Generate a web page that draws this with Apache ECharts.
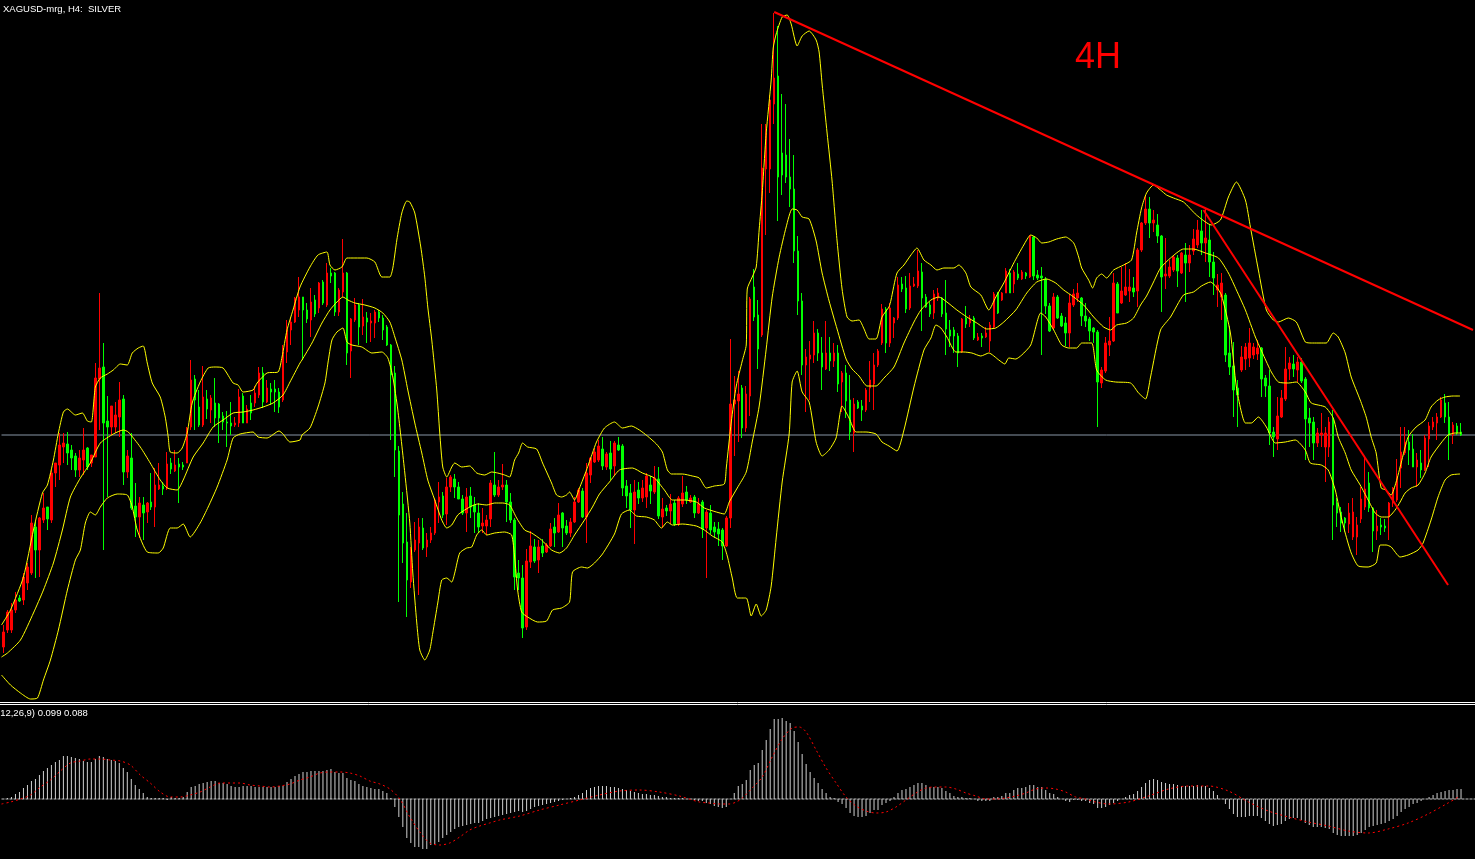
<!DOCTYPE html>
<html><head><meta charset="utf-8">
<script src="https://cdn.jsdelivr.net/npm/echarts@6/dist/echarts.min.js"></script>
<style>html,body{margin:0;padding:0;background:#000;overflow:hidden}#c{width:1475px;height:859px}</style>
</head><body><div id="c"></div>
<script>
// ---- Data (price units; bars are 4 hours apart, x of overlays given in hours from first bar) ----
const titleText = 'XAGUSD-mrg, H4:  SILVER';
const macdLabel = '(12,26,9) 0.099 0.088';
const noteText = '4H';
const bidPrice = 25.65;

const openP = [
23.53,23.70,23.70,23.90,24.02,24.00,24.17,24.27,24.73,24.50,
24.80,24.93,24.80,25.27,25.35,25.53,25.56,25.50,25.44,25.30,
25.40,25.52,25.37,25.43,26.21,26.33,25.79,25.73,25.73,25.83,
26.01,25.28,25.42,24.94,24.83,24.95,24.88,24.98,24.93,25.11,
25.14,25.12,25.37,25.29,25.36,25.35,25.37,25.73,26.21,25.93,
25.75,26.01,25.90,25.97,25.96,25.84,25.78,25.77,25.75,25.77,
26.04,25.77,25.97,25.97,26.05,26.27,25.98,26.11,26.11,26.08,
26.00,26.48,26.70,26.78,26.90,27.03,26.90,26.80,27.00,26.92,
27.18,26.95,27.27,27.27,26.88,27.08,27.27,26.49,26.80,26.95,
26.74,26.82,26.77,26.77,26.88,26.82,26.73,26.55,26.27,25.49,
24.96,24.58,24.18,24.50,24.57,24.72,24.53,24.60,24.67,24.98,
25.04,24.86,25.13,25.21,25.13,25.01,24.87,25.04,24.95,24.87,
24.74,24.74,24.81,25.15,25.05,25.13,25.15,24.98,24.80,24.27,
24.22,23.73,24.38,24.53,24.40,24.54,24.48,24.54,24.73,24.68,
24.87,24.74,24.67,24.78,24.98,25.09,24.83,25.25,25.38,25.40,
25.51,25.33,25.47,25.34,25.55,25.54,25.14,25.07,24.90,25.10,
25.02,25.03,25.15,25.08,25.21,24.83,24.92,24.89,24.97,24.76,
24.96,25.08,24.98,25.03,24.87,24.98,24.72,24.87,24.73,24.71,
24.70,24.54,24.82,25.96,25.99,26.12,25.72,26.04,27.13,26.85,
26.65,28.31,28.31,28.96,29.24,28.47,28.45,28.23,28.11,27.49,
26.99,26.35,26.41,26.45,26.67,26.47,26.31,26.47,26.39,26.47,
26.18,26.27,26.00,25.67,25.98,25.94,25.90,26.12,26.16,26.35,
26.57,26.91,26.57,26.77,26.82,27.16,27.12,26.92,27.14,27.14,
27.28,27.03,26.95,26.87,27.02,27.02,26.87,26.70,26.70,26.64,
26.48,26.82,26.77,26.82,26.60,26.64,26.63,26.59,26.73,27.07,
27.00,27.07,27.27,27.16,27.26,27.21,27.27,27.23,27.63,27.25,
27.24,27.21,26.94,26.72,27.03,26.84,26.77,26.67,26.95,27.02,
27.02,26.84,26.81,26.72,26.68,26.17,26.29,26.55,26.59,27.16,
26.97,27.05,27.09,27.12,27.09,27.50,27.77,27.91,27.77,27.75,
27.64,27.24,27.24,27.30,27.42,27.27,27.45,27.37,27.49,27.55,
27.69,27.57,27.60,27.38,27.10,27.03,27.05,26.47,26.34,26.12,
26.30,26.41,26.42,26.45,26.46,26.52,26.22,26.14,25.68,25.61,
25.83,26.01,26.31,26.36,26.30,26.38,26.21,25.82,25.78,25.57,
25.65,25.53,25.53,25.81,24.97,24.88,24.82,24.76,24.63,24.63,
24.81,24.93,25.17,24.92,24.69,24.75,24.74,24.83,24.97,25.00,
25.32,25.47,25.58,25.51,25.33,25.37,25.30,25.61,25.73,25.77,
25.83,25.97,25.83,25.65,25.74,25.68];

const closeP = [
23.68,23.88,23.90,24.00,23.99,24.23,24.33,24.77,24.50,24.82,
24.92,24.81,25.27,25.37,25.55,25.57,25.47,25.42,25.30,25.42,
25.50,25.33,25.45,26.22,26.32,25.77,25.73,25.94,25.85,26.00,
25.28,25.44,24.92,24.83,24.97,24.87,24.97,24.93,25.15,25.15,
25.11,25.36,25.31,25.35,25.33,25.33,25.72,26.20,26.00,25.75,
26.03,25.91,26.02,25.82,25.82,25.78,25.77,25.74,25.77,26.03,
25.77,25.91,25.87,26.07,26.27,25.98,26.12,26.08,26.08,25.93,
26.48,26.70,26.78,27.02,27.03,26.90,26.81,26.98,26.86,27.17,
26.97,27.27,27.24,26.88,27.10,27.27,26.47,26.81,26.95,26.73,
26.83,26.78,26.79,26.88,26.82,26.70,26.55,26.25,25.50,24.85,
24.57,24.20,24.50,24.60,24.73,24.52,24.60,24.67,25.00,25.03,
24.85,25.13,25.23,25.13,25.01,24.87,25.03,24.93,24.88,24.73,
24.77,24.80,25.17,25.05,25.13,25.15,24.98,24.80,24.23,24.22,
23.72,24.39,24.54,24.39,24.53,24.47,24.55,24.71,24.67,24.85,
24.72,24.67,24.78,24.98,25.10,24.83,25.27,25.42,25.48,25.54,
25.34,25.46,25.31,25.57,25.50,25.12,25.04,24.90,25.08,25.02,
25.12,25.24,25.09,25.22,24.84,24.91,24.89,24.96,24.76,25.02,
25.07,25.00,25.02,24.87,24.96,24.71,24.88,24.70,24.68,24.66,
24.54,24.82,25.96,26.00,26.06,25.72,26.06,27.01,26.83,26.51,
28.32,28.67,29.00,29.22,28.23,28.25,28.23,28.11,27.49,26.99,
26.35,26.43,26.45,26.67,26.47,26.33,26.47,26.39,26.47,26.16,
26.27,25.99,25.68,25.96,25.92,25.90,26.10,26.20,26.35,26.49,
26.91,26.57,26.92,26.82,27.15,27.11,26.91,27.14,27.16,27.29,
27.02,26.93,26.86,27.06,27.07,26.86,26.71,26.64,26.64,26.47,
26.81,26.76,26.81,26.62,26.63,26.62,26.67,26.75,27.06,26.87,
27.07,27.29,27.07,27.28,27.22,27.28,27.24,27.64,27.24,27.22,
27.22,26.94,26.69,27.03,26.82,26.74,26.67,26.97,27.06,27.07,
26.84,26.79,26.69,26.68,26.18,26.30,26.57,26.59,27.17,26.87,
27.09,27.13,27.13,27.08,27.50,27.77,27.91,27.77,27.80,27.64,
27.23,27.26,27.33,27.43,27.29,27.47,27.37,27.45,27.61,27.70,
27.57,27.62,27.38,27.22,27.15,27.17,26.45,26.33,26.10,26.05,
26.43,26.53,26.57,26.53,26.52,26.21,26.14,25.67,25.63,25.84,
26.02,26.31,26.37,26.31,26.38,26.19,25.81,25.77,25.57,25.67,
25.67,25.67,25.78,24.95,24.87,24.77,24.77,24.87,24.88,24.75,
25.01,25.11,24.92,24.69,24.74,24.73,24.72,24.97,25.12,25.23,
25.48,25.58,25.50,25.33,25.40,25.30,25.62,25.74,25.78,25.83,
26.00,25.83,25.65,25.75,25.67,25.65];

const lowP = [
23.47,23.67,23.67,23.87,23.98,23.95,24.10,24.25,24.22,24.23,
24.77,24.70,24.77,25.13,25.20,25.37,25.35,25.30,25.23,25.23,
25.25,25.30,25.33,25.43,25.70,24.50,25.03,25.65,25.67,25.63,
25.15,25.22,24.90,24.63,24.62,24.60,24.77,24.90,24.73,25.10,
25.05,25.10,25.26,25.28,24.97,25.30,25.37,25.70,25.70,25.73,
25.73,25.81,25.77,25.73,25.57,25.70,25.53,25.65,25.73,25.73,
25.77,25.77,25.80,25.93,26.02,25.92,25.97,25.95,25.88,25.87,
25.98,26.37,26.55,26.77,26.83,26.40,26.77,26.63,26.83,26.87,
26.95,26.93,27.17,26.84,26.84,27.03,26.35,26.22,26.78,26.55,
26.65,26.57,26.58,26.62,26.78,26.60,26.54,25.60,25.23,23.98,
24.37,23.83,24.12,24.48,24.05,24.50,24.43,24.57,24.65,24.77,
24.82,24.75,25.08,25.02,25.01,24.85,24.68,24.82,24.67,24.67,
24.67,24.65,24.73,25.03,25.03,25.10,24.78,24.77,24.10,24.10,
23.62,23.70,24.32,24.37,24.27,24.43,24.47,24.53,24.53,24.67,
24.53,24.65,24.63,24.77,24.97,24.82,24.57,25.17,25.37,25.38,
25.30,25.30,25.20,25.24,25.49,25.04,24.92,24.72,24.56,24.96,
24.98,24.92,24.96,25.06,24.81,24.72,24.84,24.76,24.74,24.74,
24.93,24.96,24.97,24.82,24.86,24.62,24.22,24.66,24.62,24.54,
24.40,24.53,24.72,25.44,25.58,25.62,25.68,25.84,26.79,26.31,
26.63,27.65,28.07,28.76,27.79,28.05,28.17,27.93,27.37,26.85,
26.25,25.88,26.00,26.37,26.39,26.10,26.30,26.29,26.33,26.08,
25.88,25.82,25.60,25.48,25.91,25.79,25.88,25.98,25.90,26.33,
26.55,26.47,26.53,26.62,26.80,27.08,26.87,26.90,27.13,27.12,
26.69,26.92,26.83,26.81,26.99,26.83,26.45,26.53,26.47,26.33,
26.47,26.72,26.73,26.60,26.59,26.53,26.62,26.48,26.72,26.86,
26.99,27.07,27.07,27.07,27.20,27.20,27.21,27.22,27.20,27.20,
26.45,26.86,26.68,26.71,26.81,26.73,26.54,26.53,26.93,26.98,
26.74,26.73,26.59,26.57,25.73,26.12,26.27,26.44,26.58,26.87,
26.96,27.04,26.98,27.03,26.93,27.48,27.75,27.62,27.68,27.57,
26.88,27.11,27.22,27.28,27.13,27.26,26.98,27.28,27.45,27.52,
27.45,27.38,27.23,27.05,26.93,26.80,26.38,26.25,25.83,25.73,
26.28,26.30,26.33,26.41,26.40,26.03,26.03,25.55,25.43,25.50,
25.82,25.99,26.20,26.23,26.18,26.17,25.40,25.53,25.40,25.53,
25.53,25.18,25.43,24.60,24.73,24.68,24.68,24.67,24.60,24.45,
24.77,24.90,24.88,24.48,24.60,24.65,24.68,24.60,24.93,24.98,
25.12,25.45,25.35,25.33,25.13,25.22,25.29,25.33,25.70,25.60,
25.82,25.77,25.40,25.56,25.65,25.64];

const highP = [
23.75,23.90,23.97,24.08,24.05,24.27,24.37,24.85,24.78,24.83,
25.07,24.93,25.30,25.37,25.67,25.67,25.68,25.55,25.47,25.50,
25.72,25.53,25.45,26.37,27.07,26.57,26.04,25.94,25.98,26.18,
26.05,25.50,25.67,25.17,25.03,25.03,24.98,25.27,25.32,25.37,
25.18,25.48,25.42,25.50,25.42,25.38,25.73,26.40,26.25,26.10,
26.34,26.10,26.05,26.22,25.97,25.88,25.89,25.98,25.83,26.11,
26.07,25.95,26.05,26.14,26.33,26.33,26.20,26.17,26.20,26.12,
26.55,26.80,26.83,27.03,27.23,27.03,26.97,27.12,27.05,27.18,
27.20,27.37,27.32,27.28,27.12,27.61,27.28,26.82,27.02,26.97,
27.01,26.88,26.87,26.90,26.90,26.85,26.75,26.56,26.34,25.54,
25.08,24.87,24.53,24.78,24.82,24.82,24.67,24.73,25.02,25.18,
25.08,25.22,25.25,25.26,25.18,25.05,25.12,25.13,25.03,24.97,
24.92,24.85,25.20,25.48,25.20,25.36,25.20,25.07,24.82,24.40,
24.35,24.51,24.69,24.61,24.60,24.61,24.57,24.77,24.82,24.97,
24.88,24.80,24.82,25.03,25.12,25.12,25.37,25.43,25.52,25.60,
25.63,25.48,25.59,25.59,25.63,25.56,25.20,25.16,25.20,25.18,
25.20,25.27,25.24,25.34,25.33,25.02,24.95,25.06,25.00,25.04,
25.24,25.14,25.05,25.05,25.02,25.00,24.90,24.95,24.78,24.78,
24.72,24.84,26.61,26.24,26.29,26.15,26.14,27.03,27.31,27.00,
28.76,28.76,29.05,29.87,29.74,29.06,28.96,28.61,28.45,27.64,
27.07,26.51,26.59,26.79,26.71,26.63,26.79,26.63,26.57,26.55,
26.29,26.35,26.25,26.02,26.00,26.00,26.12,26.39,26.47,26.51,
26.96,26.93,26.97,26.83,27.23,27.23,27.24,27.27,27.23,27.50,
27.37,27.06,26.98,27.10,27.12,27.03,27.20,26.80,26.73,26.67,
26.82,26.94,26.85,26.84,26.67,26.67,26.73,26.78,27.08,27.08,
27.08,27.32,27.31,27.30,27.37,27.30,27.28,27.65,27.64,27.30,
27.33,27.23,26.97,27.07,27.05,26.87,26.83,27.06,27.11,27.17,
27.03,26.97,26.83,26.73,26.70,26.33,26.63,26.83,27.27,27.18,
27.33,27.37,27.31,27.23,27.52,27.78,28.05,28.03,27.90,27.86,
27.65,27.62,27.40,27.45,27.45,27.48,27.57,27.55,27.71,27.80,
27.90,27.91,27.75,27.48,27.26,27.27,27.07,26.74,26.58,26.20,
26.54,26.57,26.72,26.57,26.60,26.53,26.25,26.30,25.73,26.03,
26.10,26.53,26.43,26.45,26.43,26.42,26.23,25.92,25.83,25.72,
25.87,25.73,25.83,25.90,25.02,24.93,24.83,24.97,25.02,24.83,
25.13,25.42,25.28,24.93,24.90,24.82,24.81,24.98,25.13,25.41,
25.73,25.73,25.70,25.66,25.47,25.50,25.65,25.78,25.83,25.87,
26.03,26.06,25.98,25.78,25.77,25.77];

// Bollinger bands: [hours from first bar, price]
const bbUpper = [[-2,23.75],[7,23.90],[20,24.23],[30,24.70],[39,25.07],[44,25.15],[50,25.40],[55,25.67],[60,25.88],[64,25.91],[72,25.85],[79,25.87],[84,25.79],[88,25.78],[92,26.13],[97,26.22],[104,26.26],[110,26.30],[117,26.36],[124,26.35],[129,26.47],[135,26.52],[140,26.54],[144,26.37],[149,26.17],[157,26.03],[162,25.83],[165,25.63],[167,25.48],[174,25.47],[179,25.52],[184,25.67],[189,25.97],[197,26.18],[205,26.32],[212,26.33],[220,26.32],[230,26.17],[235,26.15],[240,26.08],[250,26.10],[254,26.17],[264,26.27],[275,26.28],[279,26.43],[284,26.70],[290,26.90],[297,27.13],[307,27.33],[315,27.45],[324,27.48],[327,27.35],[332,27.30],[339,27.33],[344,27.42],[352,27.42],[364,27.42],[372,27.38],[379,27.23],[387,27.23],[390,27.32],[394,27.60],[399,27.87],[404,27.99],[407,27.98],[412,27.87],[418,27.53],[422,27.23],[425,26.93],[429,26.60],[434,26.10],[437,25.67],[440,25.33],[444,25.23],[449,25.33],[452,25.37],[459,25.33],[467,25.34],[474,25.27],[482,25.25],[489,25.28],[495,25.27],[502,25.25],[507,25.23],[512,25.40],[516,25.47],[520,25.57],[525,25.53],[534,25.51],[540,25.37],[549,25.17],[554,25.05],[559,25.03],[564,25.05],[567,25.08],[572,25.00],[577,25.12],[584,25.30],[590,25.47],[594,25.58],[602,25.72],[612,25.78],[620,25.72],[629,25.74],[637,25.70],[645,25.64],[654,25.56],[660,25.48],[665,25.30],[669,25.26],[680,25.26],[690,25.24],[697,25.22],[704,25.12],[712,25.14],[722,25.16],[724,25.32],[729,25.78],[734,26.14],[740,26.39],[744,26.55],[745,27.11],[750,27.23],[754,27.33],[757,27.71],[760,28.07],[764,28.67],[769,29.20],[771,29.52],[774,29.66],[780,29.83],[785,29.85],[789,29.76],[795,29.54],[800,29.64],[807,29.69],[814,29.60],[817,29.48],[820,29.16],[825,28.67],[830,28.19],[835,27.59],[840,27.11],[845,26.83],[850,26.79],[857,26.80],[862,26.71],[867,26.61],[874,26.61],[880,26.83],[887,26.93],[889,27.00],[895,27.27],[902,27.35],[909,27.45],[915,27.52],[922,27.40],[929,27.35],[935,27.30],[942,27.32],[952,27.32],[957,27.35],[964,27.27],[969,27.13],[979,27.05],[987,26.90],[994,27.03],[1002,27.17],[1012,27.37],[1022,27.55],[1029,27.65],[1035,27.62],[1040,27.57],[1047,27.58],[1055,27.61],[1064,27.63],[1072,27.57],[1077,27.43],[1080,27.32],[1087,27.20],[1091,27.12],[1095,27.22],[1100,27.26],[1105,27.22],[1112,27.30],[1122,27.35],[1130,27.40],[1135,27.67],[1140,27.92],[1145,28.07],[1152,28.15],[1159,28.10],[1165,28.05],[1172,28.02],[1182,27.98],[1195,27.85],[1210,27.75],[1219,27.80],[1227,28.03],[1235,28.18],[1244,28.00],[1249,27.73],[1257,27.30],[1265,26.90],[1272,26.80],[1277,26.78],[1287,26.82],[1295,26.78],[1304,26.58],[1310,26.57],[1325,26.57],[1332,26.67],[1337,26.63],[1344,26.47],[1350,26.23],[1359,26.00],[1365,25.83],[1370,25.63],[1375,25.47],[1380,25.12],[1385,25.10],[1390,25.05],[1395,25.18],[1400,25.37],[1407,25.63],[1415,25.73],[1424,25.80],[1430,25.93],[1437,26.00],[1444,26.03],[1452,26.04],[1459,26.04]];

const bbMiddle = [[-2,23.43],[4,23.47],[17,23.60],[30,23.87],[40,24.10],[50,24.37],[59,24.70],[67,25.03],[77,25.22],[87,25.37],[97,25.57],[110,25.66],[120,25.70],[125,25.68],[137,25.53],[147,25.37],[157,25.20],[164,25.12],[174,25.10],[180,25.20],[190,25.43],[200,25.57],[210,25.73],[220,25.80],[230,25.87],[240,25.88],[250,25.90],[260,25.93],[270,25.97],[280,26.05],[287,26.18],[297,26.37],[299,26.40],[309,26.57],[319,26.77],[327,26.90],[334,26.98],[340,27.03],[345,27.00],[352,26.97],[362,26.95],[372,26.92],[380,26.87],[387,26.78],[392,26.63],[399,26.40],[405,26.10],[412,25.77],[419,25.47],[425,25.20],[432,25.00],[439,24.80],[444,24.72],[449,24.75],[455,24.85],[462,24.90],[469,24.94],[475,24.96],[484,24.95],[492,24.97],[500,24.97],[507,24.95],[514,24.82],[522,24.70],[529,24.67],[539,24.60],[549,24.50],[557,24.47],[564,24.52],[572,24.65],[582,24.80],[590,24.93],[597,25.06],[607,25.18],[617,25.30],[630,25.32],[640,25.27],[652,25.22],[662,25.10],[670,25.00],[682,25.00],[694,24.98],[702,24.92],[714,24.88],[722,24.86],[727,24.98],[735,25.12],[744,25.28],[750,25.58],[757,25.94],[764,26.51],[770,27.03],[777,27.43],[784,27.73],[790,27.91],[795,27.90],[800,27.83],[807,27.81],[814,27.59],[820,27.27],[827,26.99],[835,26.71],[844,26.41],[850,26.31],[857,26.24],[865,26.14],[874,26.14],[882,26.22],[892,26.33],[902,26.57],[912,26.78],[919,26.90],[929,27.00],[937,27.03],[945,26.98],[955,26.90],[965,26.83],[975,26.77],[985,26.71],[994,26.72],[1002,26.78],[1014,26.90],[1025,27.07],[1035,27.18],[1045,27.21],[1054,27.17],[1062,27.10],[1072,27.03],[1082,26.95],[1092,26.83],[1102,26.73],[1109,26.70],[1115,26.75],[1125,26.77],[1132,26.82],[1139,26.95],[1145,27.04],[1152,27.18],[1159,27.32],[1169,27.42],[1182,27.51],[1192,27.51],[1204,27.47],[1217,27.42],[1227,27.27],[1235,27.10],[1244,26.90],[1254,26.63],[1262,26.45],[1270,26.28],[1277,26.18],[1287,26.17],[1295,26.18],[1304,26.08],[1310,25.97],[1324,25.93],[1332,25.82],[1337,25.63],[1344,25.47],[1350,25.30],[1359,25.15],[1367,25.00],[1374,24.87],[1380,24.83],[1387,24.83],[1394,24.90],[1399,24.98],[1404,25.07],[1410,25.12],[1417,25.15],[1424,25.27],[1430,25.43],[1440,25.57],[1447,25.65],[1454,25.67],[1460,25.67]];

const bbLower = [[-2,23.25],[7,23.15],[17,23.07],[27,23.01],[34,23.02],[40,23.20],[47,23.40],[55,23.70],[64,24.10],[72,24.40],[77,24.50],[82,24.77],[87,24.88],[92,24.85],[97,24.93],[104,25.02],[114,25.06],[124,25.05],[129,24.93],[134,24.70],[144,24.48],[155,24.47],[160,24.52],[167,24.72],[174,24.72],[180,24.76],[187,24.63],[197,24.77],[205,24.93],[214,25.13],[224,25.40],[230,25.62],[237,25.66],[250,25.68],[255,25.63],[264,25.62],[276,25.69],[280,25.66],[287,25.58],[297,25.60],[299,25.65],[307,25.72],[315,25.93],[322,26.17],[325,26.37],[329,26.60],[334,26.68],[340,26.72],[344,26.58],[349,26.55],[359,26.53],[369,26.47],[379,26.48],[385,26.42],[390,26.23],[395,25.90],[402,25.27],[407,24.77],[410,24.27],[414,23.77],[417,23.50],[422,23.40],[427,23.50],[430,23.67],[435,23.97],[439,24.20],[444,24.22],[449,24.18],[452,24.27],[457,24.47],[464,24.52],[469,24.53],[474,24.65],[479,24.70],[484,24.65],[492,24.67],[502,24.68],[509,24.65],[512,24.43],[515,24.10],[519,23.88],[525,23.83],[535,23.78],[544,23.79],[550,23.90],[559,23.92],[567,23.98],[570,24.28],[579,24.33],[585,24.32],[592,24.37],[600,24.46],[612,24.66],[619,24.86],[627,24.90],[634,24.84],[644,24.83],[652,24.80],[659,24.72],[665,24.78],[670,24.75],[680,24.76],[694,24.74],[702,24.70],[710,24.64],[720,24.58],[725,24.44],[730,24.22],[735,24.02],[744,24.02],[749,23.84],[754,23.96],[759,23.84],[764,23.90],[769,24.14],[774,24.62],[780,25.18],[787,25.66],[790,26.18],[795,26.29],[800,26.08],[807,25.98],[814,25.58],[820,25.44],[827,25.50],[834,25.62],[840,25.94],[847,25.82],[854,25.68],[864,25.68],[874,25.66],[880,25.58],[887,25.54],[895,25.49],[902,25.70],[912,26.13],[922,26.50],[929,26.62],[934,26.75],[939,26.72],[945,26.63],[954,26.48],[962,26.48],[970,26.47],[979,26.44],[987,26.47],[997,26.40],[1003,26.36],[1007,26.42],[1014,26.41],[1020,26.45],[1029,26.55],[1039,26.87],[1044,26.83],[1052,26.70],[1060,26.55],[1067,26.52],[1075,26.52],[1080,26.57],[1090,26.57],[1095,26.30],[1104,26.20],[1114,26.18],[1129,26.17],[1137,26.07],[1144,26.01],[1149,26.23],[1159,26.70],[1169,26.83],[1182,27.05],[1192,27.08],[1200,27.14],[1209,27.18],[1215,27.13],[1220,27.05],[1229,26.67],[1235,26.13],[1244,25.77],[1250,25.77],[1257,25.83],[1265,25.73],[1274,25.57],[1284,25.58],[1294,25.60],[1304,25.50],[1309,25.37],[1320,25.35],[1327,25.30],[1334,25.10],[1339,24.87],[1344,24.67],[1350,24.47],[1357,24.34],[1367,24.33],[1375,24.37],[1379,24.55],[1385,24.55],[1390,24.53],[1399,24.43],[1407,24.45],[1417,24.50],[1422,24.57],[1430,24.80],[1437,25.03],[1444,25.20],[1450,25.25],[1459,25.26]];

// MACD(12,26,9) main line (histogram), one value per bar
const macdHist = [
0.00,0.01,0.02,0.05,0.07,0.11,0.14,0.18,0.20,0.24,
0.28,0.31,0.34,0.37,0.39,0.43,0.43,0.42,0.41,0.40,
0.38,0.37,0.37,0.40,0.43,0.42,0.40,0.39,0.38,0.36,
0.31,0.27,0.20,0.14,0.10,0.06,0.02,0.01,0.01,0.01,
0.01,-0.01,0.02,0.01,0.01,0.02,0.07,0.12,0.13,0.15,
0.16,0.17,0.18,0.18,0.16,0.16,0.15,0.13,0.12,0.12,
0.13,0.13,0.13,0.12,0.12,0.12,0.12,0.12,0.12,0.13,
0.13,0.17,0.20,0.23,0.25,0.27,0.27,0.28,0.28,0.28,
0.28,0.29,0.30,0.27,0.26,0.26,0.21,0.19,0.18,0.15,
0.13,0.12,0.11,0.10,0.10,0.08,0.06,0.01,-0.08,-0.18,
-0.28,-0.39,-0.44,-0.48,-0.48,-0.50,-0.50,-0.46,-0.45,-0.43,
-0.39,-0.36,-0.33,-0.30,-0.28,-0.27,-0.26,-0.25,-0.24,-0.24,
-0.22,-0.20,-0.19,-0.18,-0.17,-0.16,-0.15,-0.14,-0.13,-0.12,
-0.13,-0.12,-0.10,-0.08,-0.07,-0.06,-0.05,-0.04,-0.03,-0.02,
-0.01,0.00,0.01,0.02,0.04,0.06,0.09,0.11,0.12,0.13,
0.13,0.13,0.12,0.12,0.11,0.10,0.09,0.08,0.07,0.06,
0.05,0.05,0.04,0.04,0.03,0.02,0.02,0.01,0.01,0.01,
0.01,0.00,0.00,-0.01,-0.02,
-0.02,-0.04,-0.05,-0.07,-0.08,-0.09,-0.08,0.00,0.06,0.13,
0.15,0.19,0.29,0.34,0.36,0.49,0.59,0.70,0.80,0.80,
0.81,0.78,0.76,0.68,0.57,0.45,0.35,0.27,0.21,0.16,
0.10,0.06,0.02,0.01,-0.03,-0.05,-0.09,-0.14,-0.17,-0.18,
-0.18,-0.17,-0.14,-0.11,-0.11,-0.06,-0.04,-0.02,0.02,0.06,
0.09,0.10,0.12,0.14,0.16,0.16,0.14,0.12,0.12,0.12,
0.11,0.08,0.06,0.03,0.02,0.02,0.01,0.01,0.00,-0.02,
-0.02,-0.02,-0.02,0.02,0.02,0.03,0.06,0.06,0.09,0.11,
0.11,0.12,0.14,0.14,0.12,0.12,0.09,0.06,0.05,0.02,
0.00,-0.02,-0.03,-0.01,-0.01,-0.02,-0.02,-0.04,-0.05,-0.09,
-0.09,-0.08,-0.06,-0.04,-0.02,0.00,0.02,0.04,0.05,0.08,
0.12,0.16,0.19,0.20,0.19,0.17,0.16,0.15,0.15,0.14,
0.13,0.13,0.13,0.13,0.14,0.13,0.13,0.11,0.08,0.04,
0.00,-0.05,-0.10,-0.15,-0.18,-0.18,-0.18,-0.17,-0.17,-0.17,
-0.19,-0.22,-0.25,-0.27,-0.26,-0.25,-0.22,-0.20,-0.19,-0.19,
-0.21,-0.24,-0.26,-0.28,-0.28,-0.28,-0.29,-0.30,-0.34,-0.36,
-0.37,-0.37,-0.37,-0.37,-0.36,-0.34,-0.31,-0.28,-0.27,-0.26,
-0.25,-0.24,-0.22,-0.20,-0.17,-0.13,-0.10,-0.08,-0.05,-0.04,
-0.02,0.00,0.02,0.04,0.06,0.07,0.08,0.09,0.09,0.10,0.10];

// MACD signal line: [hours from first bar, value]
const macdSignal = [[-2,-0.05],[7,-0.03],[17,0.00],[27,0.04],[37,0.12],[47,0.19],[57,0.28],[67,0.36],[77,0.38],[87,0.40],[97,0.40],[107,0.39],[117,0.38],[127,0.34],[137,0.24],[147,0.16],[157,0.07],[167,0.02],[177,0.02],[187,0.04],[197,0.07],[207,0.12],[217,0.16],[227,0.16],[237,0.16],[247,0.14],[257,0.13],[267,0.12],[277,0.13],[287,0.15],[297,0.19],[307,0.22],[317,0.26],[327,0.27],[337,0.27],[347,0.26],[357,0.23],[367,0.18],[377,0.15],[387,0.10],[397,0.00],[407,-0.18],[417,-0.33],[427,-0.44],[437,-0.46],[447,-0.44],[457,-0.38],[467,-0.31],[477,-0.27],[487,-0.24],[497,-0.21],[517,-0.17],[537,-0.11],[557,-0.06],[577,-0.01],[597,0.04],[617,0.08],[637,0.09],[657,0.07],[677,0.03],[697,-0.03],[707,-0.04],[717,-0.05],[727,-0.05],[734,-0.03],[740,0.01],[750,0.11],[760,0.22],[770,0.42],[780,0.60],[790,0.71],[797,0.72],[804,0.67],[814,0.49],[824,0.31],[834,0.16],[844,0.02],[854,-0.07],[864,-0.12],[874,-0.14],[884,-0.13],[894,-0.08],[904,-0.01],[914,0.06],[924,0.11],[934,0.12],[944,0.12],[954,0.10],[964,0.06],[974,0.03],[984,0.00],[994,0.00],[1004,0.01],[1014,0.03],[1024,0.06],[1034,0.10],[1044,0.11],[1054,0.10],[1064,0.07],[1074,0.02],[1084,0.00],[1094,-0.03],[1107,-0.05],[1127,-0.03],[1147,0.03],[1167,0.10],[1187,0.13],[1207,0.13],[1227,0.08],[1247,-0.03],[1267,-0.12],[1287,-0.18],[1307,-0.23],[1327,-0.27],[1347,-0.32],[1367,-0.34],[1387,-0.30],[1407,-0.24],[1427,-0.15],[1447,-0.04],[1459,0.03]];

// Hand-drawn trend lines: [hours, price] end points
const trendLine1 = [[772,29.88],[1472,26.70]];
const trendLine2 = [[1202,27.90],[1447,24.15]];

// ---- Chart ----
const SLOTS = 369;
const cats = Array.from({length: SLOTS}, (_, i) => String(i));
const nBars = Math.min(openP.length, closeP.length, lowP.length, highP.length);
const candles = [];
for (let i = 0; i < nBars; i++) candles.push([openP[i], closeP[i], lowP[i], highP[i]]);

const chart = echarts.init(document.getElementById('c'), null, {renderer: 'canvas'});
const F = '"Liberation Sans", Arial, sans-serif';
const bandLine = (data) => ({
  type: 'line', xAxisIndex: 1, yAxisIndex: 0, data, showSymbol: false, smooth: 0.2,
  lineStyle: {color: '#ffff00', width: 1}, silent: true, z: 3
});
chart.setOption({
  backgroundColor: '#000000',
  animation: false,
  grid: [
    {left: 1.5, top: 0, width: 1476, height: 700, show: false},
    {left: 1.5, top: 706, width: 1476, height: 153, show: false}
  ],
  xAxis: [
    {type: 'category', gridIndex: 0, data: cats, boundaryGap: true, show: false},
    {type: 'value', gridIndex: 0, min: -2, max: 1474, show: false},
    {type: 'category', gridIndex: 1, data: cats, boundaryGap: true, show: false},
    {type: 'value', gridIndex: 1, min: -2, max: 1474, show: false}
  ],
  yAxis: [
    {type: 'value', gridIndex: 0, min: 23, max: 30, show: false},
    {type: 'value', gridIndex: 1, min: -0.60, max: 0.93, show: false}
  ],
  series: [
    {type: 'line', xAxisIndex: 1, yAxisIndex: 0, data: [[-2, bidPrice], [1474, bidPrice]],
     showSymbol: false, lineStyle: {color: '#8896a6', width: 1}, silent: true, z: 1},
    {type: 'candlestick', xAxisIndex: 0, yAxisIndex: 0, data: candles, barWidth: 2, silent: true, z: 2,
     itemStyle: {color: '#ff0000', color0: '#00ff00', borderColor: '#ff0000', borderColor0: '#00ff00', borderWidth: 1}},
    bandLine(bbUpper), bandLine(bbMiddle), bandLine(bbLower),
    {type: 'line', xAxisIndex: 1, yAxisIndex: 0, data: trendLine1, showSymbol: false,
     lineStyle: {color: '#ff0000', width: 2}, silent: true, z: 5},
    {type: 'line', xAxisIndex: 1, yAxisIndex: 0, data: trendLine2, showSymbol: false,
     lineStyle: {color: '#ff0000', width: 2}, silent: true, z: 5},
    {type: 'line', xAxisIndex: 3, yAxisIndex: 1, data: [[-2, 0], [1474, 0]], showSymbol: false,
     lineStyle: {color: '#c0c0c0', width: 1, type: [3, 1]}, silent: true, z: 1},
    {type: 'bar', xAxisIndex: 2, yAxisIndex: 1, data: macdHist, barWidth: 1, silent: true, z: 2,
     itemStyle: {color: '#d0d0d0'}},
    {type: 'line', xAxisIndex: 3, yAxisIndex: 1, data: macdSignal, showSymbol: false, smooth: 0.3,
     lineStyle: {color: '#ff0000', width: 1, type: [2, 3]}, silent: true, z: 3}
  ],
  graphic: [
    {type: 'text', x: 3, y: 9, silent: true,
     style: {text: titleText, fill: '#ffffff', font: '9.5px ' + F, verticalAlign: 'middle'}},
    {type: 'line', silent: true, shape: {x1: 0, y1: 702.5, x2: 1475, y2: 702.5}, style: {stroke: '#ffffff', lineWidth: 1}},
    {type: 'line', silent: true, shape: {x1: 0, y1: 704.5, x2: 1475, y2: 704.5}, style: {stroke: '#ffffff', lineWidth: 1}},
    {type: 'text', x: -3, y: 713, silent: true,
     style: {text: macdLabel, fill: '#ffffff', font: '9.5px ' + F, verticalAlign: 'middle'}},
    {type: 'text', x: 1075, y: 58, silent: true,
     style: {text: noteText, fill: '#ff0000', font: '36px ' + F, verticalAlign: 'middle'}}
  ]
});
</script>
</body></html>
